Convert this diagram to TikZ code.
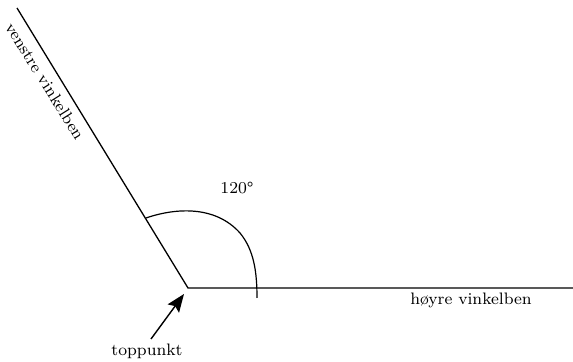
\documentclass[tikz,border=0pt]{standalone}
\usepackage{fontspec}
\setmainfont{Latin Modern Roman}
\usetikzlibrary{arrows.meta}
\begin{document}
\begin{tikzpicture}[x=0.5pt,y=-0.5pt,
  ray/.style={line width=0.65pt},
  lbl/.style={font=\fontsize{8.3}{10}\selectfont, inner sep=0pt}]
\useasboundingbox (0,0) rectangle (573,362);
\coordinate (V) at (188,288);
\coordinate (L) at (17,8);
\coordinate (R) at (573,288);
\coordinate (T) at (184,294);
\draw[ray] (L) -- (V) -- (R);
\draw[line width=0.6pt] (146,218) .. controls (175,208) and (215,205) .. (240,233)
  .. controls (254,250) and (257,272) .. (257,298);
\node[lbl, rotate=-58] (vl) at (45,81) {venstre vinkelben};
\node[lbl] (hl) at (471,300) {høyre vinkelben};
\node[lbl] (ang) at (237,188) {120°};
\node[lbl] (tp) at (147,351) {toppunkt};
\coordinate (tail) at (151,339);
\draw[line width=0.7pt, -{Stealth[length=9pt,width=7pt,inset=1.5pt]}] (tail) -- (T);
\end{tikzpicture}
\end{document}
